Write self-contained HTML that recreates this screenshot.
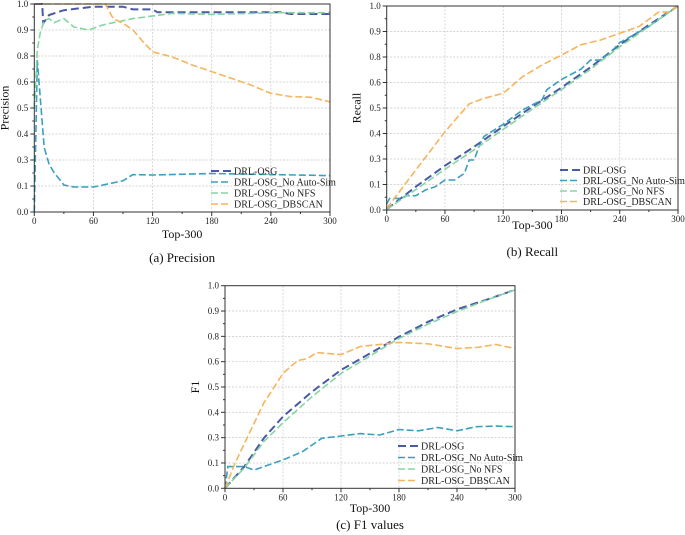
<!DOCTYPE html>
<html><head><meta charset="utf-8"><style>
html,body{margin:0;padding:0;background:#fff;width:685px;height:535px;overflow:hidden}
svg{display:block;font-family:"Liberation Serif",serif}
</style></head><body>
<svg id="fig" width="685" height="535" viewBox="0 0 685 535"></svg>
<script>
// Shared tick labels (as printed in the reference)
const xTicks = [0,60,120,180,240,300];
const yTickLabels = ["0.0","0.1","0.3","0.4","0.5","0.6","0.8","0.9","1.0"];
const seriesNames = ["DRL-OSG","DRL-OSG_No Auto-Sim","DRL-OSG_No NFS","DRL-OSG_DBSCAN"];

// (a) Precision — values as fraction of axis height
const pDrlX = [0,8,9,15,30,60,90,100,120,125,250,260,300];
const pDrlY = [1,1,0.907,0.947,0.97,0.987,0.987,0.974,0.974,0.96,0.96,0.952,0.952];
const pAutoX = [0,3,10,15,20,30,40,60,90,100,120,180,300];
const pAutoY = [0,0.73,0.31,0.23,0.19,0.13,0.12,0.12,0.15,0.18,0.178,0.185,0.175];
const pNfsX = [0,3,6,10,15,20,30,40,55,70,100,140,180,250,300];
const pNfsY = [0.5,0.78,0.86,0.92,0.93,0.91,0.93,0.89,0.875,0.9,0.93,0.955,0.95,0.958,0.958];
const pDbX = [0,72,80,90,100,110,120,140,160,180,200,220,240,260,280,300];
const pDbY = [1,1,0.93,0.907,0.875,0.82,0.77,0.745,0.707,0.675,0.643,0.61,0.57,0.555,0.552,0.53];

// (b) Recall
const rDrlX = [0,30,60,90,120,150,180,210,240,270,300];
const rDrlY = [0.003,0.114,0.217,0.31,0.41,0.507,0.6,0.7,0.81,0.907,1];
const rAutoX = [0,3,15,20,30,40,50,60,70,80,85,90,95,100,120,140,160,165,180,200,210,220,230,240,270,300];
const rAutoY = [0.03,0.057,0.057,0.07,0.07,0.098,0.114,0.147,0.147,0.18,0.245,0.245,0.31,0.36,0.42,0.49,0.54,0.59,0.64,0.69,0.735,0.735,0.77,0.82,0.9,1];
const rNfsX = [0,30,60,90,120,150,180,210,240,270,300];
const rNfsY = [0.003,0.1,0.2,0.295,0.395,0.495,0.59,0.69,0.8,0.9,1];
const rDbX = [0,30,60,75,85,100,120,140,160,180,200,220,240,260,280,290,300];
const rDbY = [0.008,0.196,0.384,0.466,0.52,0.547,0.572,0.654,0.711,0.76,0.81,0.833,0.866,0.9,0.97,0.97,1];

// (c) F1
const fDrlX = [0,20,40,60,90,120,150,180,210,240,270,300];
const fDrlY = [0,0.107,0.247,0.354,0.477,0.584,0.666,0.748,0.822,0.883,0.93,0.98];
const fAutoX = [0,3,20,30,40,60,80,100,120,140,160,180,200,220,240,260,280,300];
const fAutoY = [0,0.107,0.107,0.09,0.107,0.14,0.18,0.247,0.258,0.27,0.263,0.29,0.284,0.3,0.284,0.304,0.307,0.304];
const fNfsX = [0,20,40,60,90,120,150,180,210,240,270,300];
const fNfsY = [0,0.1,0.23,0.324,0.452,0.567,0.653,0.74,0.81,0.872,0.928,0.98];
const fDbX = [0,10,20,40,60,75,85,95,120,140,180,210,240,260,280,300];
const fDbY = [0,0.12,0.22,0.42,0.567,0.63,0.64,0.67,0.66,0.7,0.72,0.713,0.69,0.695,0.71,0.69];

const colors = ["#4b5aa6","#3c9fbd","#86d6a3","#f7b45c"];
const dashes = ["8,4","7,3","7,3","7,3"];
const widths = [2,1.6,1.6,1.6];

const svg = document.getElementById('fig');
const NS = 'http://www.w3.org/2000/svg';
function mk(tag, attrs, parent){
  const e = document.createElementNS(NS, tag);
  for (const k in attrs) e.setAttribute(k, attrs[k]);
  (parent||svg).appendChild(e);
  return e;
}

function chart(id, L, R, T, B, yTitle, caption, capY, xTitleY, series, legX, legY, legStep){
  const g = mk('g', {});
  
  
  const sx = v => L + (v/300)*(R-L);
  const sy = v => B - v*(B-T);
  for (let i=1;i<yTickLabels.length-1;i++){
    const y = B - i/(yTickLabels.length-1)*(B-T);
    const gl = mk('line',{x1:L,x2:R,y1:y,y2:y,stroke:'#c8c8c8','stroke-width':0.7,'stroke-dasharray':'2,1.5'},g);
    
    
  }
  xTicks.slice(1,-1).forEach(t=>{
    const gl = mk('line',{x1:sx(t),x2:sx(t),y1:T,y2:B,stroke:'#c8c8c8','stroke-width':0.7,'stroke-dasharray':'2,1.5'},g);
    
    
  });
  series.forEach((s,i)=>{
    const pts = s[0].map((x,j)=>sx(x).toFixed(1)+','+sy(s[1][j]).toFixed(1)).join(' ');
    const pl = mk('polyline',{points:pts,fill:'none',stroke:colors[i],'stroke-width':widths[i],'stroke-dasharray':dashes[i]},g);
    
    
  });
  const fr = mk('rect',{x:L,y:T,width:R-L,height:B-T,fill:'none',stroke:'#333','stroke-width':1},g);
  
  
  for (let t=0;t<=300;t+=30){
    const major = t%60===0;
    mk('line',{x1:sx(t),x2:sx(t),y1:B,y2:B+(major?4:2),stroke:'#333','stroke-width':1},g);
  }
  xTicks.forEach(t=>{
    const tx = mk('text',{x:sx(t),y:B+12,'font-size':9,'text-anchor':'middle',fill:'#222'},g);
    tx.textContent = t;
    
    
  });
  yTickLabels.forEach((lab,i)=>{
    const y = B - i/(yTickLabels.length-1)*(B-T);
    mk('line',{x1:L-4,x2:L,y1:y,y2:y,stroke:'#333','stroke-width':1},g);
    if (i<yTickLabels.length-1){
      const y2 = y - 0.5/(yTickLabels.length-1)*(B-T);
      mk('line',{x1:L-2,x2:L,y1:y2,y2:y2,stroke:'#333','stroke-width':1},g);
    }
    const tx = mk('text',{x:L-6,y:y+3,'font-size':9,'text-anchor':'end',fill:'#222'},g);
    tx.textContent = lab;
    
    
  });
  const xt = mk('text',{x:(L+R)/2,y:xTitleY,'font-size':12,'text-anchor':'middle',fill:'#111'},g);
  xt.textContent = 'Top-300';
  
  
  const yx = L-26, yy = (T+B)/2;
  const yt = mk('text',{x:yx,y:yy,'font-size':12,'text-anchor':'middle',fill:'#111',transform:'rotate(-90 '+yx+' '+yy+')'},g);
  yt.textContent = yTitle;
  
  
  const cp = mk('text',{x:(L+R)/2,y:capY,'font-size':13,'text-anchor':'middle',fill:'#111'},g);
  cp.textContent = caption;
  
  
  seriesNames.forEach((n,i)=>{
    const y = legY + i*legStep;
    const ln = mk('line',{x1:legX,x2:legX+20,y1:y,y2:y,stroke:colors[i],'stroke-width':widths[i],'stroke-dasharray':dashes[i]},g);
    
    
    const tx = mk('text',{x:legX+23,y:y+3.5,'font-size':10,fill:'#222'},g);
    tx.textContent = n;
    
    
  });
}

chart('precision',34.3,330,4,212,'Precision','(a) Precision',262,238,
  [[pDrlX,pDrlY],[pAutoX,pAutoY],[pNfsX,pNfsY],[pDbX,pDbY]],211,171,11);
chart('recall',386.7,678,6,210,'Recall','(b) Recall',256,229,
  [[rDrlX,rDrlY],[rAutoX,rAutoY],[rNfsX,rNfsY],[rDbX,rDbY]],560,170,10.5);
chart('f1',225,515,285.7,488.3,'F1','(c) F1 values',529,512,
  [[fDrlX,fDrlY],[fAutoX,fAutoY],[fNfsX,fNfsY],[fDbX,fDbY]],398,446,11.5);
</script>
</body></html>
